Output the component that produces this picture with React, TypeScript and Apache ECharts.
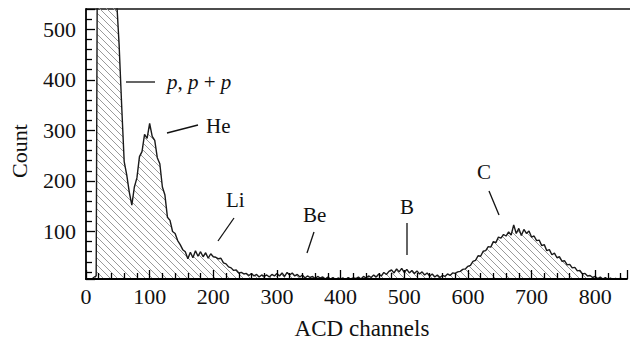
import React, { useEffect, useRef } from "react";
import * as echarts from "echarts";

// Channel step between consecutive count values
const CHANNEL_STEP = 4;

// Counts for channels 0..196
const countsLow = [
  3, 6, 4, 9, 12, 1400, 2000, 2000, 2000, 2000,
  2000, 1500, 560, 470, 350, 238, 212, 178, 152, 188,
  206, 248, 258, 292, 284, 314, 288, 280, 246, 234,
  188, 172, 128, 122, 100, 96, 82, 74, 64, 60,
  46, 59, 48, 62, 51, 60, 50, 58, 47, 56,
];

// Counts for channels 200..596
const countsMid = [
  50, 49, 46, 47, 38, 36, 30, 28, 23, 24,
  18, 19, 16, 17, 13, 17, 12, 15, 10, 14,
  11, 14, 10, 15, 12, 17, 12, 18, 11, 19,
  14, 18, 12, 15, 10, 14, 8, 12, 9, 11,
  7, 11, 8, 10, 6, 10, 6, 9, 5, 8,
  6, 8, 5, 9, 6, 8, 7, 10, 6, 11,
  8, 12, 9, 14, 10, 16, 12, 19, 15, 21,
  24, 18, 26, 20, 27, 19, 25, 18, 23, 17,
  22, 16, 20, 14, 18, 12, 16, 10, 14, 9,
  13, 11, 16, 13, 18, 17, 20, 21, 25, 26,
];

// Counts for channels 600..848
const countsHigh = [
  31, 33, 41, 43, 52, 51, 61, 62, 70, 69,
  80, 78, 89, 87, 94, 91, 99, 93, 113, 96,
  106, 92, 104, 96, 101, 89, 91, 82, 83, 72,
  74, 62, 64, 54, 57, 48, 50, 41, 42, 34,
  35, 28, 29, 22, 23, 16, 17, 12, 13, 9,
  11, 7, 10, 6, 9, 5, 8, 5, 7, 5,
  8, 5, 6,
];

const xTicks = [0, 100, 200, 300, 400, 500, 600, 700, 800];
const yTicks = [100, 200, 300, 400, 500];

const allCounts = [...countsLow, ...countsMid, ...countsHigh];
const seriesData = allCounts.map((v, i) => [i * CHANNEL_STEP, v]);

const FONT = "Liberation Serif";

function makeHatch(): HTMLCanvasElement {
  const s = 7;
  const c = document.createElement("canvas");
  c.width = s;
  c.height = s;
  const ctx = c.getContext("2d")!;
  ctx.strokeStyle = "#9a9a9a";
  ctx.lineWidth = 1;
  for (let k = -1; k <= 1; k++) {
    ctx.beginPath();
    ctx.moveTo(k * s, 0);
    ctx.lineTo(k * s + s, s);
    ctx.stroke();
  }
  return c;
}

export default function App() {
  const ref = useRef<HTMLDivElement>(null);
  useEffect(() => {
    if (!ref.current) return;
    document.body.style.margin = "0";
    const chart = echarts.init(ref.current, undefined, { renderer: "svg" });
    const lineStyle = { color: "#1a1a1a", width: 1.4 };
    const textStyle = (t: string, x: number, y: number, rich?: any) => ({
      type: "text",
      x,
      y,
      style: {
        text: t,
        fontFamily: FONT,
        fontSize: 21,
        fill: "#111",
        verticalAlign: "middle",
        rich,
      },
    });
    const seg = (x1: number, y1: number, x2: number, y2: number) => ({
      type: "line",
      shape: { x1, y1, x2, y2 },
      style: { stroke: "#111", lineWidth: 1.3 },
    });
    chart.setOption({
      animation: false,
      grid: { left: 86, top: 9, right: 1, bottom: 61 },
      xAxis: {
        type: "value",
        z: 10,
        min: 0,
        max: 850,
        interval: 100,
        axisLine: { show: true, lineStyle: { color: "#000", width: 1.8 } },
        axisTick: { show: true, inside: true, length: 9, lineStyle: { color: "#000", width: 1.3 } },
        minorTick: { show: true, splitNumber: 5, length: 6, lineStyle: { color: "#000", width: 1.3 } },
        splitLine: { show: false },
        axisLabel: {
          fontFamily: FONT,
          fontSize: 22,
          color: "#111",
          margin: 6,
          formatter: (v: number) => (xTicks.includes(v) ? String(v) : ""),
        },
      },
      yAxis: {
        type: "value",
        z: 10,
        min: 6,
        max: 540,
        axisLine: { show: true, onZero: false, lineStyle: { color: "#000", width: 1.8 } },
        axisTick: { show: true, inside: true, length: 9, lineStyle: { color: "#000", width: 1.3 } },
        minorTick: { show: true, splitNumber: 5, length: 6, lineStyle: { color: "#000", width: 1.3 } },
        splitLine: { show: false },
        axisLabel: {
          fontFamily: FONT,
          fontSize: 22,
          color: "#111",
          margin: 10,
          formatter: (v: number) => (yTicks.includes(v) ? String(v) : ""),
        },
      },
      series: [
        {
          type: "line",
          data: seriesData,
          showSymbol: false,
          symbol: "none",
          clip: true,
          lineStyle,
          areaStyle: {
            color: { image: makeHatch(), repeat: "repeat" },
            opacity: 1,
          },
        },
      ],
      graphic: [
        seg(86, 9, 630, 9),
        {
          type: "text",
          x: 19,
          y: 151,
          rotation: Math.PI / 2,
          style: {
            text: "Count",
            fontFamily: FONT,
            fontSize: 22,
            fill: "#111",
            align: "center",
            verticalAlign: "middle",
          },
        },
        {
          type: "text",
          x: 362,
          y: 328,
          style: {
            text: "ACD channels",
            fontFamily: FONT,
            fontSize: 23,
            fill: "#111",
            align: "center",
            verticalAlign: "middle",
          },
        },
        seg(126, 82, 155, 82),
        textStyle("{i|p}, {i|p} + {i|p}", 167, 82, {
          i: { fontStyle: "italic", fontFamily: FONT, fontSize: 21, fill: "#111" },
        }),
        seg(167, 133, 198, 125),
        textStyle("He", 206, 126),
        seg(218, 241, 234, 218),
        textStyle("Li", 226, 200),
        seg(307, 253, 314, 232),
        textStyle("Be", 303, 215),
        seg(407, 223, 407, 255),
        textStyle("B", 400, 207),
        seg(489, 191, 499, 215),
        textStyle("C", 477, 172),
      ],
    });
    return () => chart.dispose();
  }, []);
  return <div ref={ref} style={{ width: 630, height: 340 }} />;
}
